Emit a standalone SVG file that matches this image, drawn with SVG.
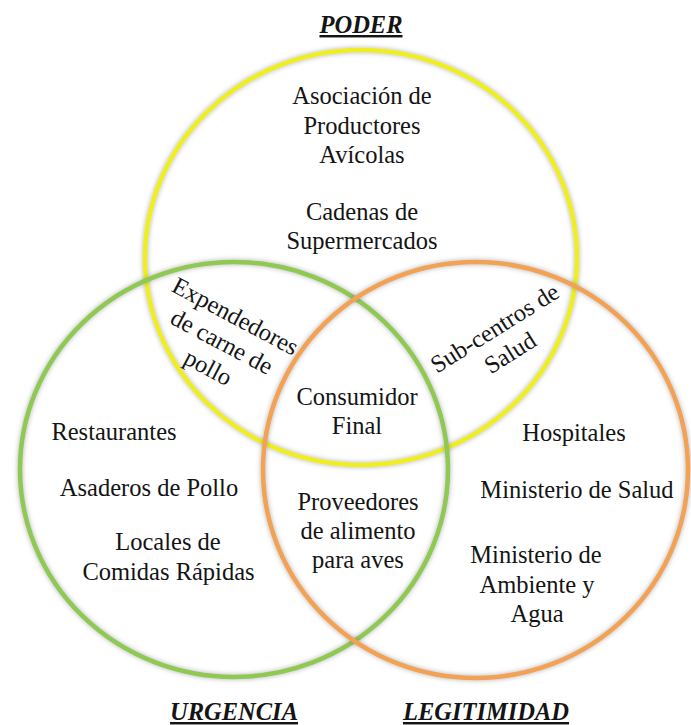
<svg xmlns="http://www.w3.org/2000/svg" width="691" height="725" viewBox="0 0 691 725">
  <style>
    text { font-family: "Liberation Serif", "Times New Roman", Times, "DejaVu Serif", serif; }
    .t { font-size: 24.5px; font-weight: normal; font-style: normal; fill: #141414; text-anchor: middle; }
    .h { font-size: 24.5px; font-weight: bold; font-style: italic; fill: #141414; text-anchor: middle; text-decoration: underline; }
    .ring { fill: none; stroke-width: 4.5; filter: url(#glow); }
  </style>
  <defs>
    <filter id="glow" x="-10%" y="-10%" width="120%" height="120%">
      <feGaussianBlur in="SourceAlpha" stdDeviation="2.5" result="b"/>
      <feFlood flood-color="#6e6e6e" flood-opacity="0.55"/>
      <feComposite in2="b" operator="in" result="s"/>
      <feMerge>
        <feMergeNode in="s"/>
        <feMergeNode in="SourceGraphic"/>
      </feMerge>
    </filter>
  </defs>
  <rect width="691" height="725" fill="#ffffff"/>

  <g id="circle-poder">
    <ellipse class="ring" cx="361" cy="257.5" rx="216" ry="207.5" stroke="#eeee22"/>
  </g>
  <g id="circle-urgencia">
    <ellipse class="ring" cx="234" cy="469.5" rx="214" ry="207.5" stroke="#8fc853"/>
  </g>
  <g id="circle-legitimidad">
    <ellipse class="ring" cx="475.5" cy="470" rx="212.5" ry="208" stroke="#f2a254"/>
  </g>

  <g id="label-poder">
    <text class="h" x="361" y="33">PODER</text>
  </g>
  <g id="label-urgencia">
    <text class="h" x="234" y="720">URGENCIA</text>
  </g>
  <g id="label-legitimidad">
    <text class="h" x="486" y="720">LEGITIMIDAD</text>
  </g>

  <g id="poder-only">
    <text class="t" x="362" y="104">Asociación de</text>
    <text class="t" x="362" y="133.5">Productores</text>
    <text class="t" x="362" y="163">Avícolas</text>
    <text class="t" x="362" y="220">Cadenas de</text>
    <text class="t" x="362" y="248.5">Supermercados</text>
  </g>

  <g id="poder-urgencia" transform="translate(218,349) rotate(28)">
    <text class="t" x="0" y="-29">Expendedores</text>
    <text class="t" x="0" y="0">de carne de</text>
    <text class="t" x="0" y="29">pollo</text>
  </g>

  <g id="poder-legitimidad" transform="translate(499,335) rotate(-32)">
    <text class="t" x="0" y="0">Sub-centros de</text>
    <text class="t" x="0" y="29">Salud</text>
  </g>

  <g id="all-three">
    <text class="t" x="357" y="405">Consumidor</text>
    <text class="t" x="357" y="434">Final</text>
  </g>

  <g id="urgencia-legitimidad">
    <text class="t" x="358" y="510">Proveedores</text>
    <text class="t" x="358" y="539">de alimento</text>
    <text class="t" x="358" y="568">para aves</text>
  </g>

  <g id="urgencia-only">
    <text class="t" x="114" y="440">Restaurantes</text>
    <text class="t" x="149" y="496">Asaderos de Pollo</text>
    <text class="t" x="168" y="550">Locales de</text>
    <text class="t" x="168.5" y="580">Comidas Rápidas</text>
  </g>

  <g id="legitimidad-only">
    <text class="t" x="574" y="441">Hospitales</text>
    <text class="t" x="577" y="498">Ministerio de Salud</text>
    <text class="t" x="536" y="563">Ministerio de</text>
    <text class="t" x="537" y="593">Ambiente y</text>
    <text class="t" x="537" y="622">Agua</text>
  </g>
</svg>
